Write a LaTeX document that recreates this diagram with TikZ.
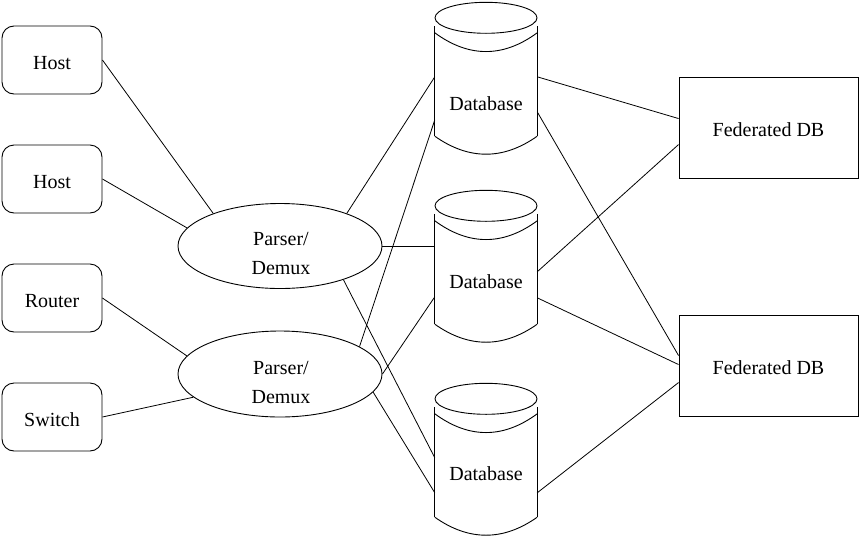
\documentclass[tikz,border=0pt]{standalone}
\usepackage{fontspec}
\setmainfont{Liberation Serif}
\usetikzlibrary{shapes.geometric}
\tikzset{
  every node/.style={font=\fontsize{20}{29}\selectfont},
  shapeline/.style={line width=0.9pt},
  conn/.style={line width=0.8pt},
  hostbox/.style={draw, shapeline, rounded corners=12pt, minimum width=100pt, minimum height=68pt, inner sep=0pt, text height=18pt, text depth=0pt},
  parser/.style={ellipse, draw, shapeline, minimum width=204pt, minimum height=85pt, inner sep=0pt},
  fedbox/.style={draw, shapeline, minimum width=179pt, minimum height=101pt, inner sep=0pt, text height=18pt, text depth=0pt},
  dbbody/.style={rectangle, minimum width=102pt, minimum height=110pt, inner sep=0pt},
  plain/.style={inner sep=0pt, align=center}
}
\newcommand{\drawcyl}[1]{%
  \draw[shapeline] ([yshift=8pt]#1.north) ellipse [x radius=51pt, y radius=15.5pt];
  \draw[shapeline] (#1.north west) -- (#1.south west) (#1.north east) -- (#1.south east);
  \draw[shapeline] ([yshift=-7pt]#1.north west) .. controls ([xshift=34pt,yshift=-32pt]#1.north west) and ([xshift=-34pt,yshift=-32pt]#1.north east) .. ([yshift=-7pt]#1.north east);
  \draw[shapeline] (#1.south west) .. controls ([xshift=34pt,yshift=-24pt]#1.south west) and ([xshift=-34pt,yshift=-24pt]#1.south east) .. (#1.south east);
}
\begin{document}
\begin{tikzpicture}[x=1pt,y=-1pt]
\useasboundingbox (0,0) rectangle (859,536);
% left boxes
\node[hostbox] (host1) at (52,60) {Host};
\node[hostbox] (host2) at (52,179) {Host};
\node[hostbox] (router) at (52,298) {Router};
\node[hostbox] (switch) at (52,417) {Switch};
% parsers
\node[parser] (p1) at (280,246) {};
\node[parser, minimum height=86pt] (p2) at (280,374) {};
\node[plain] (p1t) at (281,254) {Parser/\\Demux};
\node[plain] (p2t) at (281,382) {Parser/\\Demux};
% databases
\node[dbbody] (db1) at (486,81) {};
\node[dbbody] (db2) at (486,269) {};
\node[dbbody] (db3) at (486,462) {};
\drawcyl{db1}
\drawcyl{db2}
\drawcyl{db3}
\node[plain] (db1t) at (486,104) {Database};
\node[plain] (db2t) at (486,282) {Database};
\node[plain] (db3t) at (486,474) {Database};
% federated
\node[fedbox] (fed1) at (768.5,127.5) {Federated DB};
\node[fedbox] (fed2) at (768.5,365.5) {Federated DB};
% connectors left
\draw[conn] (host1.east) -- (p1.154);
\draw[conn] (host2.east) -- (p1.169.6);
\draw[conn] (router.east) -- (p2.169);
\draw[conn] (switch.east) -- (p2.195);
% parsers to databases
\draw[conn] (p1.26.6) -- ([yshift=-51pt]db1.north west);
\draw[conn] (p1.east) -- (p1.east -| db2.west);
\draw[conn] (p1.332) -- ([yshift=-51pt]db3.north west);
\draw[conn] (p2.19.3) -- ([yshift=-94pt]db1.north west);
\draw[conn] (p2.east) -- ([yshift=-83pt]db2.north west);
\draw[conn] (p2.349.3) -- ([yshift=-86pt]db3.north west);
% databases to federated
\draw[conn] ([yshift=-51pt]db1.north east) -- ([yshift=-42pt]fed1.north west);
\draw[conn] ([yshift=-86pt]db1.north east) -- ([yshift=-41pt]fed2.north west);
\draw[conn] ([yshift=-58pt]db2.north east) -- ([yshift=-68pt]fed1.north west);
\draw[conn] ([yshift=-84pt]db2.north east) -- ([yshift=-50pt]fed2.north west);
\draw[conn] ([yshift=-86pt]db3.north east) -- ([yshift=-68pt]fed2.north west);
\end{tikzpicture}
\end{document}
